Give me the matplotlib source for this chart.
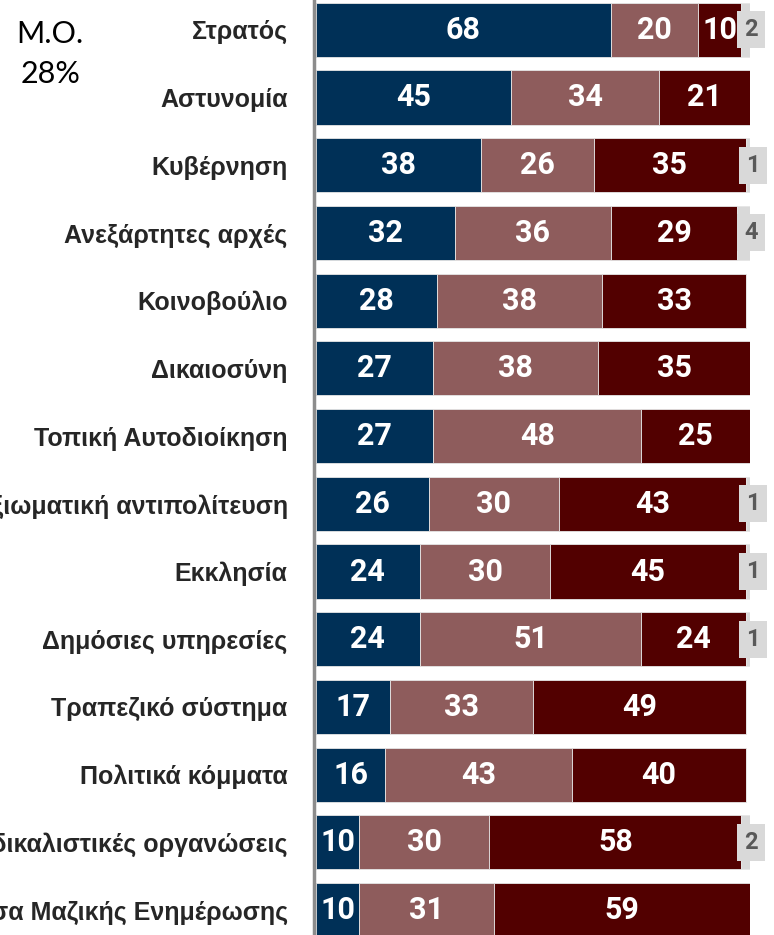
import matplotlib.pyplot as plt
import numpy as np

# Trust in institutions (%), rows top to bottom
categories = ["Στρατός", "Αστυνομία", "Κυβέρνηση", "Ανεξάρτητες αρχές",
              "Κοινοβούλιο", "Δικαιοσύνη", "Τοπική Αυτοδιοίκηση",
              "Αξιωματική αντιπολίτευση", "Εκκλησία", "Δημόσιες υπηρεσίες",
              "Τραπεζικό σύστημα", "Πολιτικά κόμματα",
              "Συνδικαλιστικές οργανώσεις", "Μέσα Μαζικής Ενημέρωσης"]
high = [68, 45, 38, 32, 28, 27, 27, 26, 24, 24, 17, 16, 10, 10]
mid = [20, 34, 26, 36, 38, 38, 48, 30, 30, 51, 33, 43, 30, 31]
low = [10, 21, 35, 29, 33, 35, 25, 43, 45, 24, 49, 40, 58, 59]
na = [2, 0, 1, 4, 0, 0, 0, 1, 1, 1, 0, 0, 2, 0]
average = "Μ.Ο.\n28%"

colors = ["#003057", "#8e5c5c", "#520000", "#d9d9d9"]
series = [high, mid, low, na]

fig = plt.figure(figsize=(7.74, 9.35), dpi=100)
ax = fig.add_axes([0.408, -0.0096, 0.561, 1.014])

y = np.arange(len(categories))
left = np.zeros(len(categories))
for k, vals in enumerate(series):
    vals = np.array(vals, dtype=float)
    ax.barh(y, vals, left=left, height=0.8, color=colors[k],
            edgecolor="#e6e6e6", linewidth=0.6)
    for i, v in enumerate(vals):
        if v <= 0:
            continue
        cx = left[i] + v / 2
        if k < 3:
            ax.text(cx, y[i], "%d" % v, ha="center", va="center",
                    color="white", fontsize=22, fontweight="bold",
                    family="Roboto")
        else:
            # small "no answer" share, shown in a grey tag past the bar end
            ax.text(cx + 1.2, y[i], "%d" % v, ha="center", va="center",
                    color="#595959", fontsize=17, fontweight="bold",
                    family="Roboto",
                    bbox=dict(boxstyle="square,pad=0.3", fc="#d9d9d9",
                              ec="none"), clip_on=False)
    left += vals

for s in ["top", "right", "bottom"]:
    ax.spines[s].set_visible(False)
ax.spines["left"].set_position(("data", -0.4))
ax.spines["left"].set_color("#8c8c8c")
ax.spines["left"].set_linewidth(2.5)

ax.set_xlim(0, 100)
ax.set_ylim(len(categories) - 0.5, -0.5)
ax.set_xticks([])
ax.set_yticks(y)
ax.set_yticklabels(categories, fontsize=18, fontweight="bold",
                   color="#262626", family="Liberation Sans")
ax.tick_params(axis="y", length=0, pad=19)

fig.text(0.065, 0.942, average, ha="center", va="center", fontsize=22,
         family="Lato", color="black", linespacing=1.5)

fig.savefig("out.png", dpi=100)
